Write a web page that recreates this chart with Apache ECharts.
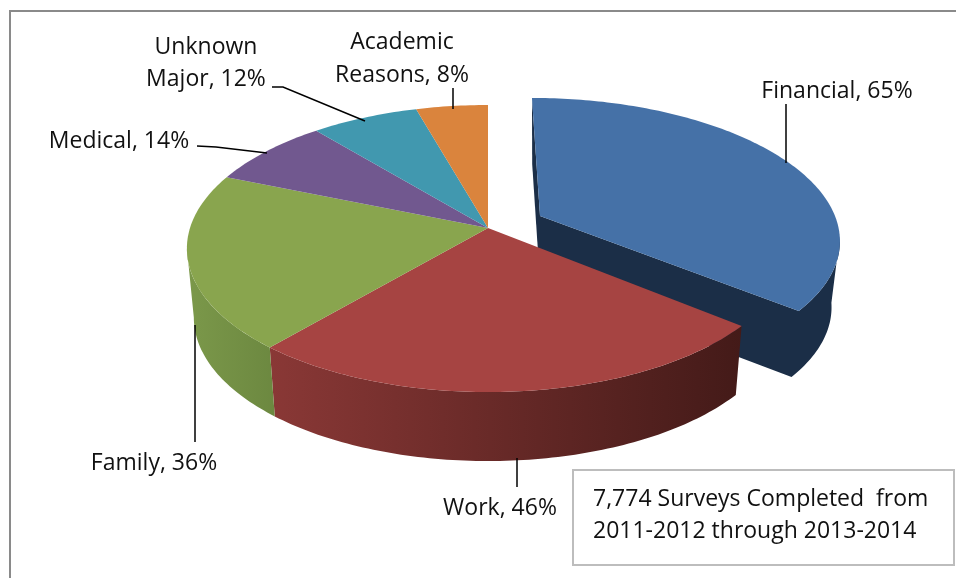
<!DOCTYPE html>
<html>
<head>
<meta charset="utf-8">
<style>html,body{margin:0;padding:0;background:#fff}#chart{width:956px;height:578px}</style>
<script src="https://cdn.jsdelivr.net/npm/echarts@6/dist/echarts.min.js"></script>
</head>
<body>
<div id="chart"></div>
<script>
// Reasons for leaving, share of survey respondents (multiple answers allowed)
const categories = ['Financial', 'Work', 'Family', 'Medical', 'Unknown Major', 'Academic Reasons'];
const values = [65, 46, 36, 14, 12, 8];
const noteLines = ['7,774 Surveys Completed  from', '2011-2012 through 2013-2014'];

const faceColors = ['#4571a7', '#a64442', '#89a54e', '#71588f', '#4198af', '#da843d'];
const FONT = '23px "Open Sans", Lato, sans-serif';

// Tilted-disc projection: perspective factor k pushes the hub above the rim's centre
const disc = { cx: 488, cy: 228, rx: 298, ry: 140.6, k: 0.143, depth: 69, shrink: 0.977 };
// The pulled-out slice has its own hub, slightly flatter rim and a lean
const pulled = { cx: 540, cy: 216, rx: 295, ry: 135.8, k: 0.15, depth: 66, shrink: 0.972, lean: 0.068 };

const labelLayout = [
  { lines: ['Financial, 65%'], x: 837, y: [91], leader: [[786, 104], [786, 163]] },
  { lines: ['Work, 46%'], x: 500, y: [508], leader: [[517, 458], [517, 487]] },
  { lines: ['Family, 36%'], x: 154, y: [463], leader: [[195, 325], [195, 442]] },
  { lines: ['Medical, 14%'], x: 119, y: [141], leader: [[197, 146], [216, 147], [267, 153]] },
  { lines: ['Unknown', 'Major, 12%'], x: 206, y: [47, 79], leader: [[272, 87], [283, 87], [365, 121]] },
  { lines: ['Academic', 'Reasons, 8%'], x: 402, y: [42, 75], leader: [[453, 88], [453, 109]] }
];

const total = values.reduce((a, b) => a + b, 0);

function rimPoint(g, deg) {
  const t = deg * Math.PI / 180;
  const w = 1 + g.k * Math.cos(t);
  const dy = -g.ry * Math.cos(t) / w;
  return [g.cx + g.rx * Math.sin(t) / w + (g.lean ? dy * g.lean : 0), g.cy + dy];
}
function lowered(g, p) {
  return [g.cx + (p[0] - g.cx) * g.shrink, p[1] + g.depth];
}
function arc(g, a0, a1) {
  const pts = [];
  const n = Math.max(2, Math.ceil(Math.abs(a1 - a0)));
  for (let i = 0; i <= n; i++) pts.push(rimPoint(g, a0 + (a1 - a0) * i / n));
  return pts;
}
// Closed band between a stretch of the rim and the same stretch one depth lower
function wall(g, a0, a1) {
  const rim = arc(g, a0, a1);
  return rim.concat(rim.map(p => lowered(g, p)).reverse());
}
// Rim angle (right side) where the projected outline turns back on itself
function silhouetteAngle(g) {
  return Math.acos(-g.k) * 180 / Math.PI;
}
function xGradient(x0, x1, c0, c1) {
  return { type: 'linear', x: x0, y: 0, x2: x1, y2: 0, global: true,
    colorStops: [{ offset: 0, color: c0 }, { offset: 1, color: c1 }] };
}

function renderSlice(params, api) {
  const i = params.dataIndex;
  const before = values.slice(0, i).reduce((a, b) => a + b, 0);
  const a0 = before / total * 360;
  const a1 = a0 + api.value(0) / total * 360;
  const g = i === 0 ? pulled : disc;
  const top = arc(g, a0, a1);
  const hub = [g.cx, g.cy];
  const children = [];

  if (i === 0) {
    // Dark walls of the pulled-out slice: back cut, then front cut and outer rim as one shape
    const dark = { fill: '#1b2e47' };
    const hubLow = lowered(g, hub);
    const first = top[0];
    const outer = arc(g, silhouetteAngle(g), a1);
    children.push({ type: 'polygon', shape: { points: [first, hub, hubLow, lowered(g, first)] }, style: dark });
    children.push({ type: 'polygon', style: dark, shape: {
      points: [hub].concat(outer.slice().reverse(), outer.map(p => lowered(g, p)), [hubLow])
    } });
  } else if (i === 1) {
    children.push({ type: 'polygon', shape: { points: wall(g, a0, a1) },
      style: { fill: xGradient(268, 745, '#8a3836', '#431a18') } });
  } else if (i === 2) {
    // Only the part of the green rim in front of the outline is visible
    children.push({ type: 'polygon', shape: { points: wall(g, a0, 360 - silhouetteAngle(g)) },
      style: { fill: xGradient(188, 275, '#7b984a', '#6c8840') } });
  }
  children.push({ type: 'polygon', shape: { points: [hub].concat(top) }, style: { fill: faceColors[i] } });

  const lay = labelLayout[i];
  children.push({ type: 'polyline', z2: 20, shape: { points: lay.leader },
    style: { stroke: '#000', lineWidth: 1.5, fill: 'none' } });
  lay.lines.forEach((line, j) => {
    children.push({ type: 'text', z2: 20,
      style: { text: line, x: lay.x, y: lay.y[j], font: FONT, fill: '#111', align: 'center', verticalAlign: 'middle' } });
  });
  return { type: 'group', children };
}

const chart = echarts.init(document.getElementById('chart'));
chart.setOption({
  animation: false,
  backgroundColor: '#fff',
  graphic: [
    { type: 'rect', z: -10, shape: { x: 10, y: 11, width: 980, height: 600 },
      style: { fill: 'none', stroke: '#8a8a8a', lineWidth: 2 } },
    { type: 'rect', z: 10, shape: { x: 573, y: 470, width: 381, height: 95 },
      style: { fill: '#fff', stroke: '#bdbdbd', lineWidth: 2 } },
    { type: 'text', z: 11, style: { text: noteLines[0], x: 593, y: 499, font: FONT, fill: '#111', align: 'left', verticalAlign: 'middle' } },
    { type: 'text', z: 11, style: { text: noteLines[1], x: 593, y: 531, font: FONT, fill: '#111', align: 'left', verticalAlign: 'middle' } }
  ],
  series: [{
    type: 'custom',
    coordinateSystem: 'none',
    renderItem: renderSlice,
    data: categories.map((name, i) => ({ name, value: [values[i]] }))
  }]
});
</script>
</body>
</html>
